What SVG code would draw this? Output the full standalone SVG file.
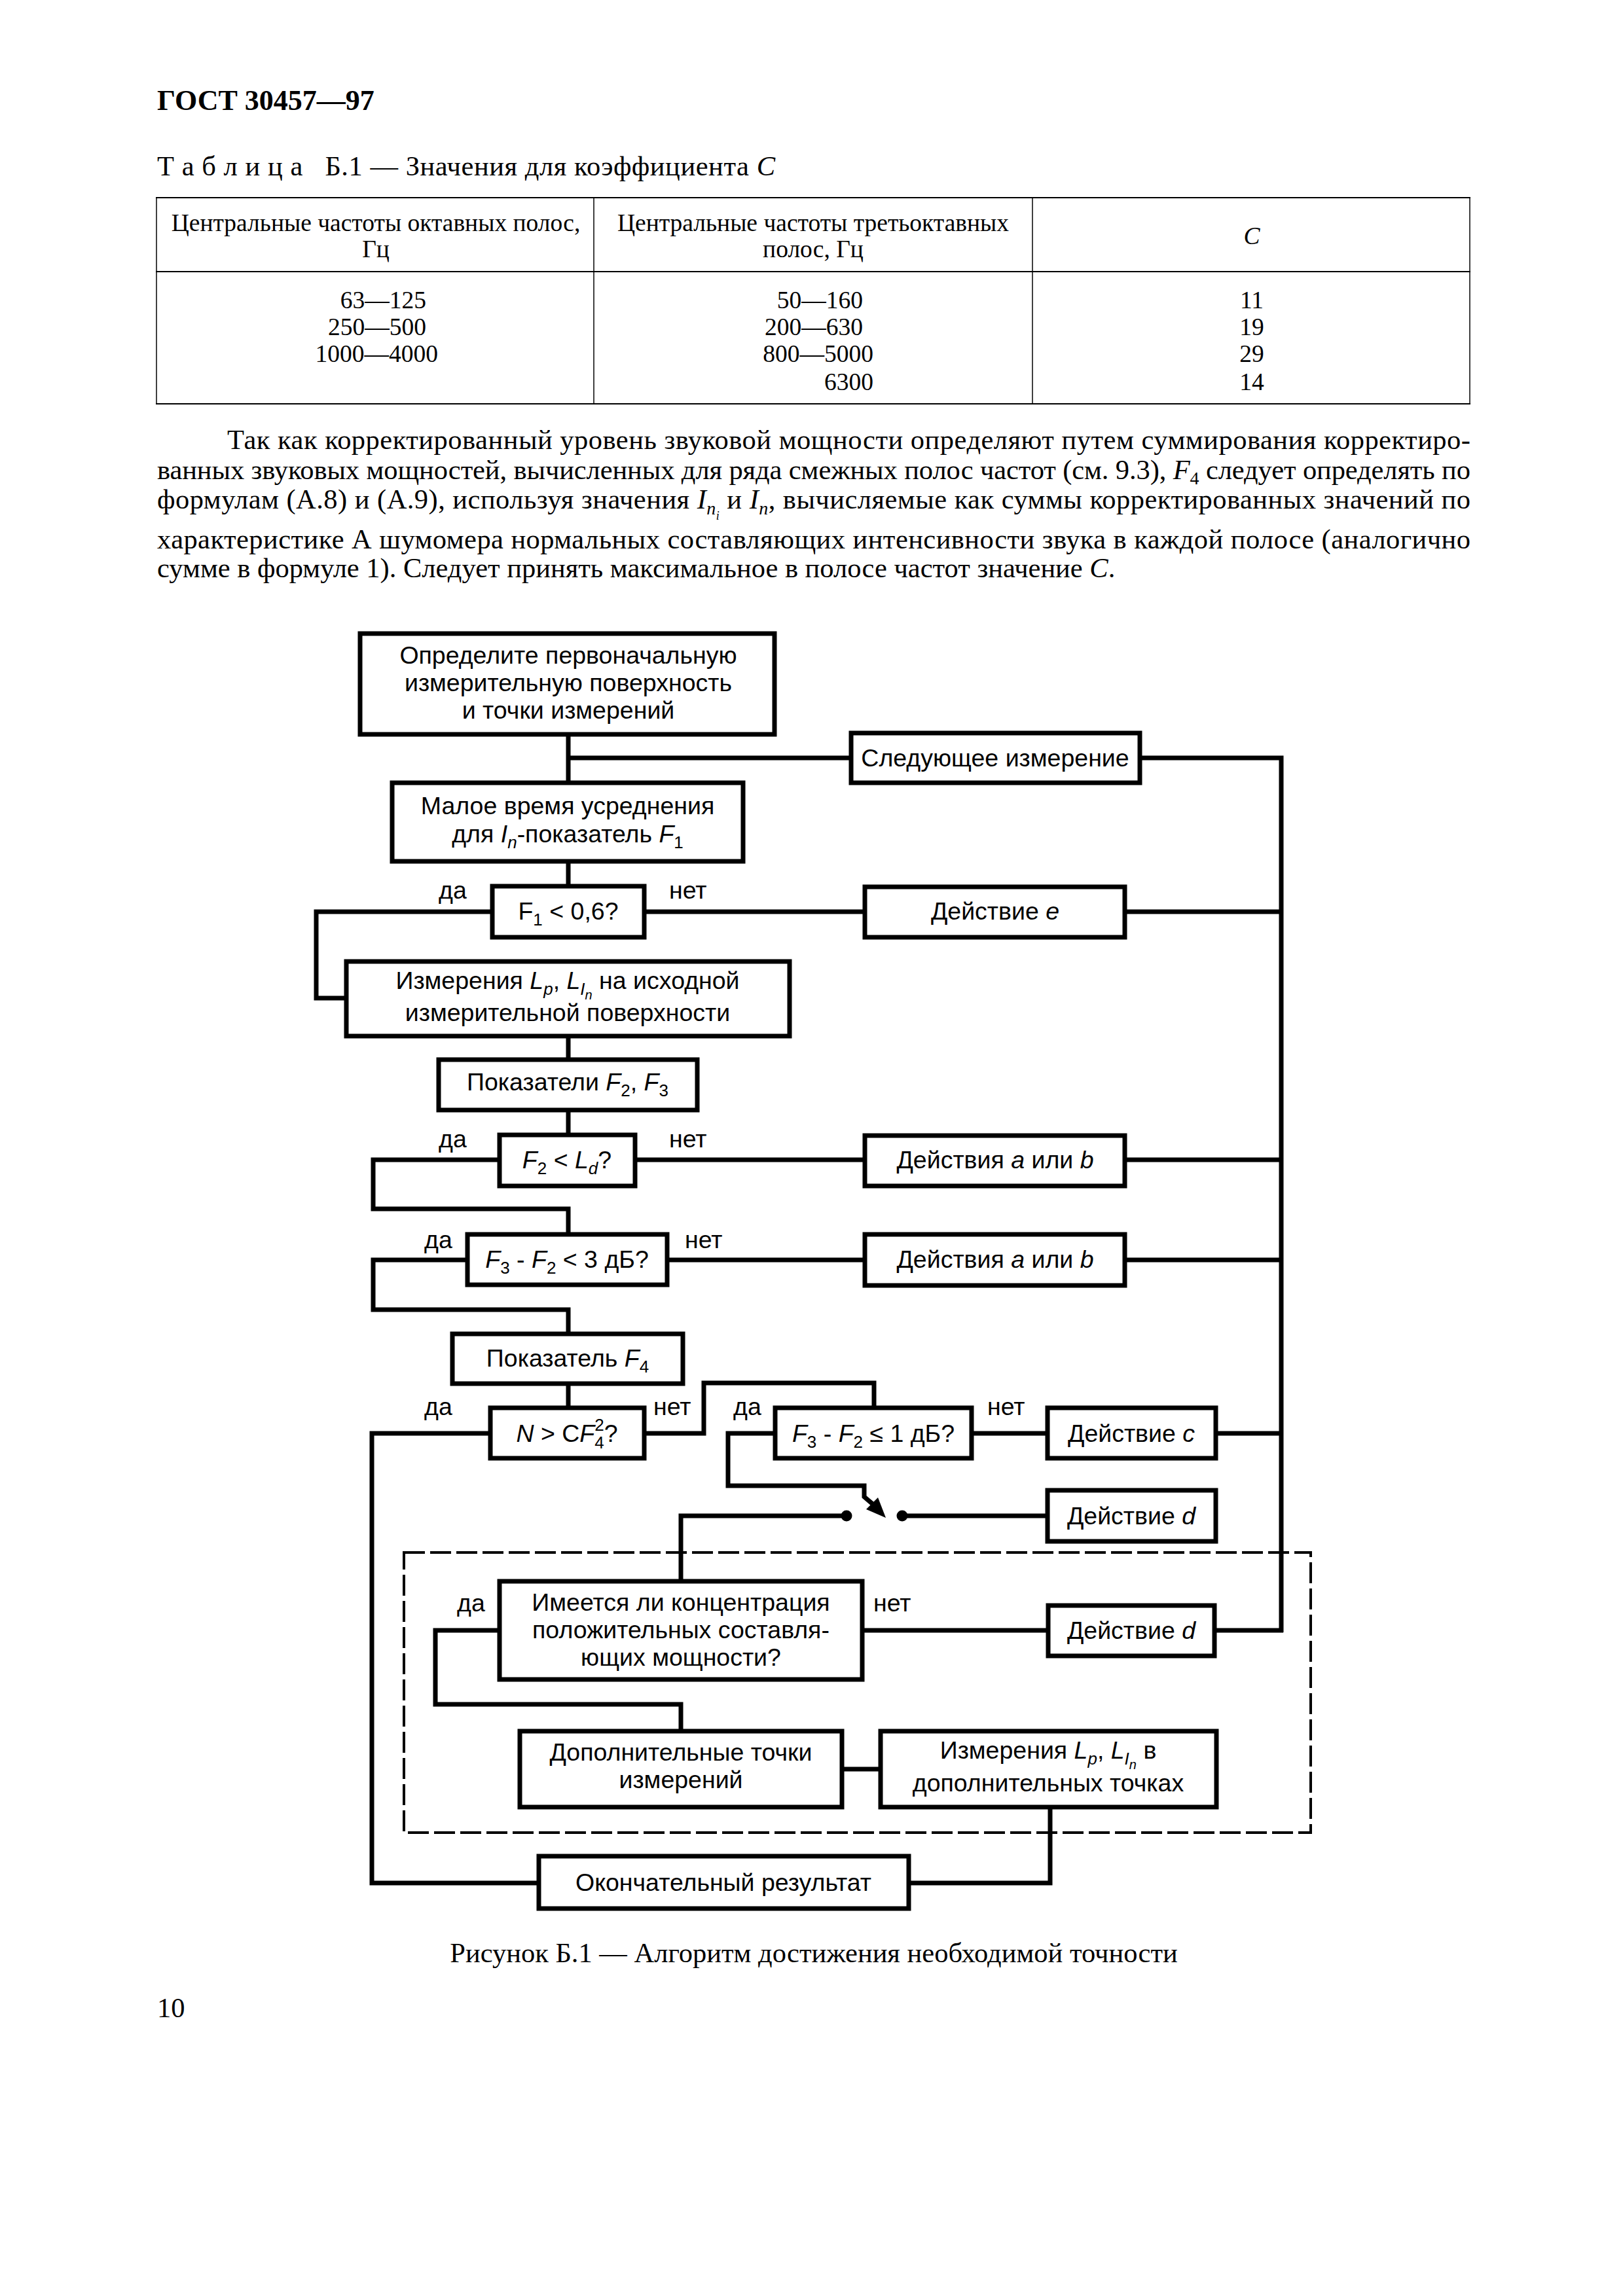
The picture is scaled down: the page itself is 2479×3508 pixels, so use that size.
<svg xmlns="http://www.w3.org/2000/svg" width="2479" height="3508" viewBox="0 0 2479 3508">
<style>
.bg{fill:#fff}
.box{fill:#fff;stroke:#000;stroke-width:7}
.ln{fill:none;stroke:#000;stroke-width:7;stroke-linejoin:miter}
.dash{fill:none;stroke:#000;stroke-width:4;stroke-dasharray:32 8}
.tb{fill:none;stroke:#000;stroke-width:2}
.t{font-family:"Liberation Sans",Arial,sans-serif;font-size:37.5px;fill:#000}
.c{text-anchor:middle}
.e{text-anchor:end}
.i{font-style:italic}
.s{font-size:26px}
.ss{font-size:20px}
.sr{font-family:"Liberation Serif","Times New Roman",serif;font-size:42.5px;fill:#000}
.tt{font-size:37.5px}
.ssr{font-size:28px}
</style>
<rect class="bg" x="0" y="0" width="2479" height="3508"/>

<g id="page-text">
<text class="sr" x="240" y="168" style="font-weight:bold;font-size:44px">ГОСТ 30457—97</text>
<text class="sr" x="240" y="268" xml:space="preserve" textLength="944" lengthAdjust="spacing">Т а б л и ц а   Б.1 — Значения для коэффициента <tspan class="i">C</tspan></text>
</g>

<g id="table">
<line class="tb" x1="238" y1="302" x2="2246" y2="302"/>
<line class="tb" x1="238" y1="415" x2="2246" y2="415"/>
<line class="tb" x1="238" y1="617" x2="2246" y2="617"/>
<line class="tb" x1="239" y1="302" x2="239" y2="617" style="stroke-width:1.5"/>
<line class="tb" x1="907" y1="302" x2="907" y2="617" style="stroke-width:1.5"/>
<line class="tb" x1="1577" y1="302" x2="1577" y2="617" style="stroke-width:1.5"/>
<line class="tb" x1="2245" y1="302" x2="2245" y2="617" style="stroke-width:1.5"/>
<text class="sr tt c" x="574" y="353">Центральные частоты октавных полос,</text>
<text class="sr tt c" x="574" y="393">Гц</text>
<text class="sr tt c" x="1242" y="353">Центральные частоты третьоктавных</text>
<text class="sr tt c" x="1242" y="393">полос, Гц</text>
<text class="sr tt c i" x="1912" y="373">C</text>
<text class="sr tt e" x="651" y="471">63—125</text>
<text class="sr tt e" x="651" y="512">250—500</text>
<text class="sr tt e" x="669" y="553">1000—4000</text>
<text class="sr tt e" x="1318" y="471">50—160</text>
<text class="sr tt e" x="1318" y="512">200—630</text>
<text class="sr tt e" x="1334" y="553">800—5000</text>
<text class="sr tt e" x="1334" y="596">6300</text>
<text class="sr tt c" x="1912" y="471">11</text>
<text class="sr tt c" x="1912" y="512">19</text>
<text class="sr tt c" x="1912" y="553">29</text>
<text class="sr tt c" x="1912" y="596">14</text>
</g>

<g id="paragraph">
<text class="sr" x="347" y="686" textLength="1899" lengthAdjust="spacing">Так как корректированный уровень звуковой мощности определяют путем суммирования корректиро-</text>
<text class="sr" x="240" y="732" textLength="2006" lengthAdjust="spacing">ванных звуковых мощностей, вычисленных для ряда смежных полос частот (см. 9.3), <tspan class="i">F</tspan><tspan class="ssr" dy="8">4</tspan><tspan dy="-8"> следует определять по</tspan></text>
<text class="sr" x="240" y="777" textLength="2006" lengthAdjust="spacing">формулам (А.8) и (А.9), используя значения <tspan class="i">I</tspan><tspan class="ssr i" dy="9">n</tspan><tspan class="i" style="font-size:18px" dy="8">i</tspan><tspan dy="-17"> и </tspan><tspan class="i">I</tspan><tspan class="ssr i" dy="9">n</tspan><tspan dy="-9">, вычисляемые как суммы корректированных значений по</tspan></text>
<text class="sr" x="240" y="838" textLength="2006" lengthAdjust="spacing">характеристике А шумомера нормальных составляющих интенсивности звука в каждой полосе (аналогично</text>
<text class="sr" x="240" y="882">сумме в формуле 1). Следует принять максимальное в полосе частот значение <tspan class="i">C</tspan>.</text>
</g>

<g id="connectors">
<polyline class="ln" points="868,1125 868,1193"/>
<polyline class="ln" points="868,1158 1297,1158"/>
<polyline class="ln" points="1744,1158 1957,1158 1957,2494"/>
<polyline class="ln" points="868,1319 868,1351"/>
<polyline class="ln" points="749,1393 483,1393 483,1525 526,1525"/>
<polyline class="ln" points="987,1393 1318,1393"/>
<polyline class="ln" points="1721,1393 1957,1393"/>
<polyline class="ln" points="868,1586 868,1616"/>
<polyline class="ln" points="868,1699 868,1731"/>
<polyline class="ln" points="760,1772 570,1772 570,1847 868,1847 868,1883"/>
<polyline class="ln" points="973,1772 1318,1772"/>
<polyline class="ln" points="1721,1772 1957,1772"/>
<polyline class="ln" points="711,1925 570,1925 570,2001 868,2001 868,2035"/>
<polyline class="ln" points="1022,1925 1318,1925"/>
<polyline class="ln" points="1721,1925 1957,1925"/>
<polyline class="ln" points="868,2117 868,2148"/>
<polyline class="ln" points="746,2190 568,2190 568,2877 820,2877"/>
<polyline class="ln" points="987,2190 1075,2190 1075,2113 1335,2113 1335,2148"/>
<polyline class="ln" points="1181,2190 1112,2190 1112,2270 1320,2270 1320,2287 1333,2298"/>
<polygon points="1323,2306 1341,2288 1353,2319" fill="#000"/>
<circle cx="1293" cy="2316" r="8.5" fill="#000"/>
<circle cx="1378" cy="2316" r="8.5" fill="#000"/>
<polyline class="ln" points="1293,2316 1040,2316 1040,2413"/>
<polyline class="ln" points="1378,2316 1597,2316"/>
<polyline class="ln" points="1487,2190 1597,2190"/>
<polyline class="ln" points="1860,2190 1957,2190"/>
<polyline class="ln" points="760,2491 665,2491 665,2604 1040,2604 1040,2642"/>
<polyline class="ln" points="1320,2491 1598,2491"/>
<polyline class="ln" points="1858,2491 1960,2491"/>
<polyline class="ln" points="1289,2703 1342,2703"/>
<polyline class="ln" points="1604,2764 1604,2877 1391,2877"/>
</g>

<g id="region">
<rect class="dash" x="617" y="2372" width="1385" height="428"/>
</g>

<g id="labels">
<text class="t" x="670" y="1373">да</text>
<text class="t" x="1022" y="1373">нет</text>
<text class="t" x="670" y="1753">да</text>
<text class="t" x="1022" y="1753">нет</text>
<text class="t" x="648" y="1907">да</text>
<text class="t" x="1046" y="1907">нет</text>
<text class="t" x="648" y="2162">да</text>
<text class="t" x="998" y="2162">нет</text>
<text class="t" x="1120" y="2162">да</text>
<text class="t" x="1508" y="2162">нет</text>
<text class="t" x="698" y="2462">да</text>
<text class="t" x="1334" y="2462">нет</text>
</g>

<g id="n-start">
<rect class="box" x="550" y="968" width="633" height="154"/>
<text class="t c" x="868" y="1014">Определите первоначальную</text>
<text class="t c" x="868" y="1056">измерительную поверхность</text>
<text class="t c" x="868" y="1098">и точки измерений</text>
</g>
<g id="n-next">
<rect class="box" x="1300" y="1120" width="441" height="76"/>
<text class="t c" x="1520" y="1171">Следующее измерение</text>
</g>
<g id="n-short">
<rect class="box" x="599" y="1196" width="536" height="120"/>
<text class="t c" x="867" y="1244">Малое время усреднения</text>
<text class="t c" x="867" y="1287">для <tspan class="i">I</tspan><tspan class="s i" dy="9">n</tspan><tspan dy="-9">-показатель </tspan><tspan class="i">F</tspan><tspan class="s" dy="9">1</tspan></text>
</g>
<g id="n-f1">
<rect class="box" x="752" y="1354" width="232" height="78"/>
<text class="t c" x="868" y="1405">F<tspan class="s" dy="9">1</tspan><tspan dy="-9"> &lt; 0,6?</tspan></text>
</g>
<g id="n-acte">
<rect class="box" x="1321" y="1355" width="397" height="77"/>
<text class="t c" x="1520" y="1405">Действие <tspan class="i">e</tspan></text>
</g>
<g id="n-meas">
<rect class="box" x="529" y="1469" width="677" height="114"/>
<text class="t c" x="867" y="1511">Измерения <tspan class="i">L</tspan><tspan class="s i" dy="9">p</tspan><tspan dy="-9">, </tspan><tspan class="i">L</tspan><tspan class="s i" dy="9">I</tspan><tspan class="ss i" dy="7">n</tspan><tspan dy="-16"> на исходной</tspan></text>
<text class="t c" x="867" y="1560">измерительной поверхности</text>
</g>
<g id="n-f2f3">
<rect class="box" x="670" y="1619" width="395" height="77"/>
<text class="t c" x="867" y="1666">Показатели <tspan class="i">F</tspan><tspan class="s" dy="9">2</tspan><tspan dy="-9">, </tspan><tspan class="i">F</tspan><tspan class="s" dy="9">3</tspan></text>
</g>
<g id="n-f2ld">
<rect class="box" x="763" y="1734" width="207" height="78"/>
<text class="t c" x="866" y="1785"><tspan class="i">F</tspan><tspan class="s" dy="9">2</tspan><tspan dy="-9"> &lt; </tspan><tspan class="i">L</tspan><tspan class="s i" dy="9">d</tspan><tspan dy="-9">?</tspan></text>
</g>
<g id="n-actab1">
<rect class="box" x="1321" y="1735" width="397" height="77"/>
<text class="t c" x="1520" y="1785">Действия <tspan class="i">a</tspan> или <tspan class="i">b</tspan></text>
</g>
<g id="n-f3f2">
<rect class="box" x="714" y="1886" width="305" height="77"/>
<text class="t c" x="866" y="1937"><tspan class="i">F</tspan><tspan class="s" dy="9">3</tspan><tspan dy="-9"> - </tspan><tspan class="i">F</tspan><tspan class="s" dy="9">2</tspan><tspan dy="-9"> &lt; 3 дБ?</tspan></text>
</g>
<g id="n-actab2">
<rect class="box" x="1321" y="1886" width="397" height="78"/>
<text class="t c" x="1520" y="1937">Действия <tspan class="i">a</tspan> или <tspan class="i">b</tspan></text>
</g>
<g id="n-f4">
<rect class="box" x="691" y="2038" width="352" height="76"/>
<text class="t c" x="867" y="2088">Показатель <tspan class="i">F</tspan><tspan class="s" dy="9">4</tspan></text>
</g>
<g id="n-ncf">
<rect class="box" x="749" y="2151" width="235" height="77"/>
<text class="t c" x="866" y="2203"><tspan class="i">N</tspan> &gt; C<tspan class="i">F</tspan><tspan class="s" dy="10">4</tspan><tspan class="s" dx="-14.5" dy="-27">2</tspan><tspan dy="17">?</tspan></text>
</g>
<g id="n-f3f2b">
<rect class="box" x="1184" y="2151" width="300" height="77"/>
<text class="t c" x="1334" y="2203"><tspan class="i">F</tspan><tspan class="s" dy="9">3</tspan><tspan dy="-9"> - </tspan><tspan class="i">F</tspan><tspan class="s" dy="9">2</tspan><tspan dy="-9"> ≤ 1 дБ?</tspan></text>
</g>
<g id="n-actc">
<rect class="box" x="1600" y="2151" width="257" height="77"/>
<text class="t c" x="1728" y="2203">Действие <tspan class="i">c</tspan></text>
</g>
<g id="n-actd1">
<rect class="box" x="1600" y="2277" width="257" height="78"/>
<text class="t c" x="1728" y="2329">Действие <tspan class="i">d</tspan></text>
</g>
<g id="n-conc">
<rect class="box" x="763" y="2416" width="554" height="150"/>
<text class="t c" x="1040" y="2461">Имеется ли концентрация</text>
<text class="t c" x="1040" y="2503">положительных составля-</text>
<text class="t c" x="1040" y="2545">ющих мощности?</text>
</g>
<g id="n-actd2">
<rect class="box" x="1601" y="2453" width="254" height="77"/>
<text class="t c" x="1728" y="2504">Действие <tspan class="i">d</tspan></text>
</g>
<g id="n-addpts">
<rect class="box" x="794" y="2645" width="492" height="116"/>
<text class="t c" x="1040" y="2690">Дополнительные точки</text>
<text class="t c" x="1040" y="2732">измерений</text>
</g>
<g id="n-addmeas">
<rect class="box" x="1345" y="2645" width="513" height="116"/>
<text class="t c" x="1601" y="2687">Измерения <tspan class="i">L</tspan><tspan class="s i" dy="9">p</tspan><tspan dy="-9">, </tspan><tspan class="i">L</tspan><tspan class="s i" dy="9">I</tspan><tspan class="ss i" dy="7">n</tspan><tspan dy="-16"> в</tspan></text>
<text class="t c" x="1601" y="2737">дополнительных точках</text>
</g>
<g id="n-final">
<rect class="box" x="823" y="2836" width="565" height="80"/>
<text class="t c" x="1105" y="2889">Окончательный результат</text>
</g>

<g id="caption">
<text class="sr c" x="1243" y="2998">Рисунок Б.1 — Алгоритм достижения необходимой точности</text>
<text class="sr" x="240" y="3082">10</text>
</g>
</svg>
